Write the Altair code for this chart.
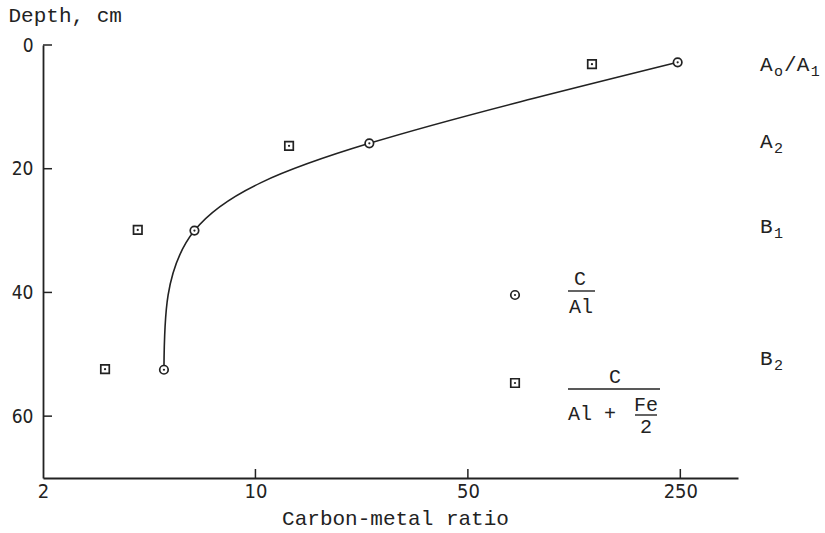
import altair as alt
import pandas as pd

# C/Al ratio against depth (circles, joined by the curve)
al_ratio = [5.0, 6.3, 23.7, 245.0]
al_depth = [52.5, 30.0, 15.9, 2.8]

# C/(Al + Fe/2) ratio against depth (squares)
alfe_ratio = [3.2, 4.1, 12.9, 128.0]
alfe_depth = [52.4, 29.9, 16.3, 3.1]

# axis ticks
x_ticks = [2, 10, 50, 250]
y_ticks = [0, 20, 40, 60]
x_domain = [2, 387]
y_domain = [0, 70]

# soil horizons, written as (text, is_subscript) pieces, with their depth
horizon_parts = [
    [("A", False), ("o", True), ("/A", False), ("1", True)],
    [("A", False), ("2", True)],
    [("B", False), ("1", True)],
    [("B", False), ("2", True)],
]
horizon_depth = [3.2, 15.7, 29.5, 50.7]

W, H = 695, 433
INK = "#222222"
MONO = "Liberation Mono, DejaVu Sans Mono, monospace"
NARROW = "DejaVu Sans Condensed, Liberation Sans Narrow, Liberation Sans, sans-serif"

xs = alt.Scale(type="log", domain=x_domain, nice=False, zero=False)
ys = alt.Scale(domain=y_domain, reverse=True, nice=False, zero=False)

x_axis = alt.Axis(
    values=x_ticks, format="d", grid=False, ticks=False,
    domainColor=INK, domainWidth=1.8,
    labelFont=NARROW, labelFontSize=20, labelColor=INK, labelPadding=3,
    labelFlush=False,
    title="Carbon-metal ratio", titleFont=MONO, titleFontSize=21,
    titleFontWeight="normal", titleColor=INK,
    titleX=352, titleY=46, titleBaseline="alphabetic",
)
y_axis = alt.Axis(
    values=y_ticks, grid=False, ticks=False,
    domainColor=INK, domainWidth=1.8,
    labelFont=NARROW, labelFontSize=19, labelColor=INK, labelPadding=10,
    title="Depth, cm", titleFont=MONO, titleFontSize=21,
    titleFontWeight="normal", titleColor=INK, titleAngle=0,
    titleAlign="left", titleBaseline="alphabetic", titleX=-35, titleY=-24,
)

al = pd.DataFrame({"ratio": al_ratio, "depth": al_depth})
alfe = pd.DataFrame({"ratio": alfe_ratio, "depth": alfe_depth})
one = alt.Data(values=[{}])


def xq():
    return alt.X("ratio:Q", scale=xs, axis=x_axis)


def yq():
    return alt.Y("depth:Q", scale=ys, axis=y_axis)


# smooth curve through the C/Al points
curve = alt.Chart(al).mark_line(
    interpolate="natural", color=INK, strokeWidth=1.6
).encode(x=xq(), y=yq())

# inward tick marks
xt = alt.Chart(pd.DataFrame({"ratio": x_ticks[1:]})).mark_rule(
    color=INK, strokeWidth=1.5
).encode(x=xq(), y=alt.value(H), y2=alt.value(H - 9))
yt = alt.Chart(pd.DataFrame({"depth": y_ticks})).mark_rule(
    color=INK, strokeWidth=1.5
).encode(y=yq(), x=alt.value(0), x2=alt.value(9))


def marker(df, shape, x=None, y=None):
    ring = alt.Chart(df).mark_point(
        shape=shape, filled=True, fill="white", stroke=INK, strokeWidth=1.7,
        size=72, opacity=1,
    )
    dot = alt.Chart(df).mark_point(
        shape="circle", filled=True, color=INK, size=5, opacity=1
    )
    if x is None:
        enc = dict(x=xq(), y=yq())
    else:
        enc = dict(x=alt.value(x), y=alt.value(y))
    return ring.encode(**enc) + dot.encode(**enc)


def label(txt, x, y, size=20, align="center"):
    return alt.Chart(one).mark_text(
        text=txt, font=MONO, fontSize=size, align=align, baseline="middle",
        color=INK,
    ).encode(x=alt.value(x), y=alt.value(y))


def rule(x0, x1, y):
    return alt.Chart(one).mark_rule(color=INK, strokeWidth=1.4).encode(
        x=alt.value(x0), x2=alt.value(x1), y=alt.value(y)
    )


# horizon names down the right side
horizon_layers = []
for parts, depth in zip(horizon_parts, horizon_depth):
    x0 = W + 22
    for txt, sub in parts:
        size = 15 if sub else 21
        if sub:
            x0 += 1.5
        horizon_layers.append(
            alt.Chart(pd.DataFrame({"depth": [depth]})).mark_text(
                text=txt, font=MONO, fontSize=size, align="left",
                baseline="middle", color=INK, dy=6 if sub else 0,
            ).encode(x=alt.value(x0), y=yq())
        )
        x0 += 0.6 * size * len(txt) + (1 if sub else 0)

# key: C/Al and C/(Al + Fe/2)
key = [
    marker(pd.DataFrame({"k": [0]}), "circle", 472, 250),
    label("C", 537, 234),
    rule(525, 552, 246),
    label("Al", 538, 262),
    marker(pd.DataFrame({"k": [0]}), "square", 472, 338),
    label("C", 572, 332),
    rule(525, 617, 344),
    label("Al +", 525, 369, align="left"),
    label("Fe", 603, 360),
    rule(592, 614, 370),
    label("2", 603, 382),
]

chart = alt.layer(
    curve, xt, yt,
    marker(alfe, "square"),
    marker(al, "circle"),
    *horizon_layers,
    *key,
).properties(
    width=W, height=H,
    padding={"left": 43, "top": 45, "right": 87, "bottom": 55},
    autosize="none",
).configure(background="white").configure_view(strokeWidth=0)

chart.save("out.html", embed_options={"renderer": "svg", "actions": False})
